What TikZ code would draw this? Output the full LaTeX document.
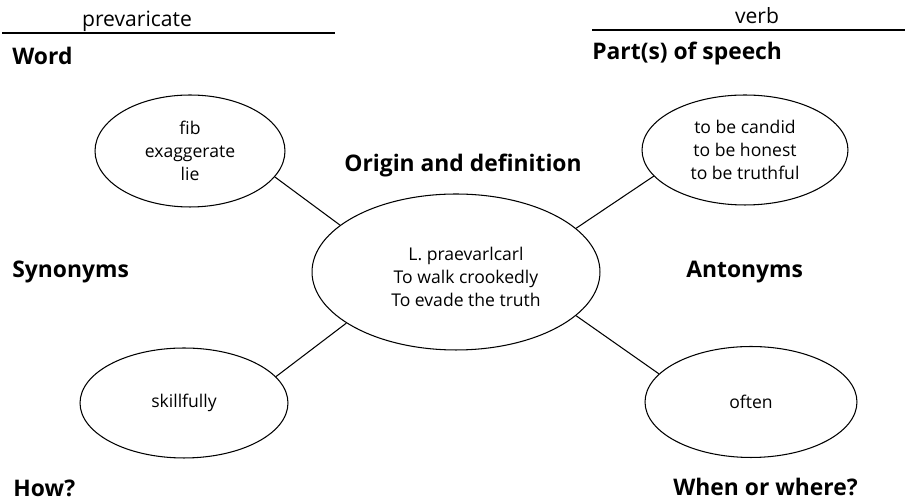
\documentclass[tikz,border=0pt]{standalone}
\usepackage{fontspec}
\setmainfont{Open Sans}
\newfontfamily\headfont{Open Sans}
\usetikzlibrary{shapes.geometric,positioning}

\tikzset{
  bubble/.style={draw,ellipse,line width=0.6pt,inner sep=0pt,align=center,
    font=\handfont\fontsize{10}{13}\selectfont},
  headlabel/.style={font=\headfont\bfseries\fontsize{13}{15}\selectfont,inner sep=0pt},
  blank/.style={font=\handfont\fontsize{12}{14}\selectfont,inner sep=0pt},
  spoke/.style={line width=0.6pt}
}
\newcommand{\handfont}{\fontspec{Open Sans}}

\begin{document}
\begin{tikzpicture}[x=0.02cm,y=-0.02cm]
\useasboundingbox (0,0) rectangle (914,502);

% answer lines at the top
\coordinate (wordL) at (2,33);
\coordinate (wordR) at (335,33);
\coordinate (posL) at (592,30);
\coordinate (posR) at (905,30);
\draw[line width=0.7pt] (wordL) -- (wordR);
\draw[line width=0.7pt] (posL) -- (posR);
\node[blank,anchor=base] (wordtext) at (137,27) {prevaricate};
\node[blank,anchor=base] (postext) at (757,24) {verb};

% bubbles
\node[bubble,minimum width=5.76cm,minimum height=3.12cm] (origin) at (456,272)
  {};
\node[bubble,draw=none,minimum width=0pt,minimum height=0pt] (origintext) at (466,277)
  {L. praevarlcarl\\To walk crookedly\\To evade the truth};
\node[bubble,minimum width=3.8cm,minimum height=2.24cm] (syn) at (190,151)
  {fib\\exaggerate\\lie};
\node[bubble,minimum width=4.12cm,minimum height=2.2cm] (ant) at (745,150)
  {to be candid\\to be honest\\to be truthful};
\node[bubble,minimum width=4.16cm,minimum height=2.2cm] (how) at (184,403)
  {skillfully};
\node[bubble,minimum width=4.24cm,minimum height=2.22cm] (when) at (751,402)
  {often};

\draw[spoke] (syn.-17) -- (origin.158);
\draw[spoke] (ant.196) -- (origin.20);
\draw[spoke] (how.16) -- (origin.205);
\draw[spoke] (when.163) -- (origin.-20);

% headings
\node[headlabel,anchor=west] (word) at (12,56) {Word};
\node[headlabel,anchor=west] (pos) at (592,54) {Part(s) of speech};
\node[headlabel,anchor=east] (orig) at (582,166) {Origin and definition};
\node[headlabel,anchor=west] (synlbl) at (12,272) {Synonyms};
\node[headlabel,anchor=west] (antlbl) at (686,272) {Antonyms};
\node[headlabel,anchor=west] (howlbl) at (13,488) {How?};
\node[headlabel,anchor=west] (whenlbl) at (673,487) {When or where?};
\end{tikzpicture}
\end{document}
